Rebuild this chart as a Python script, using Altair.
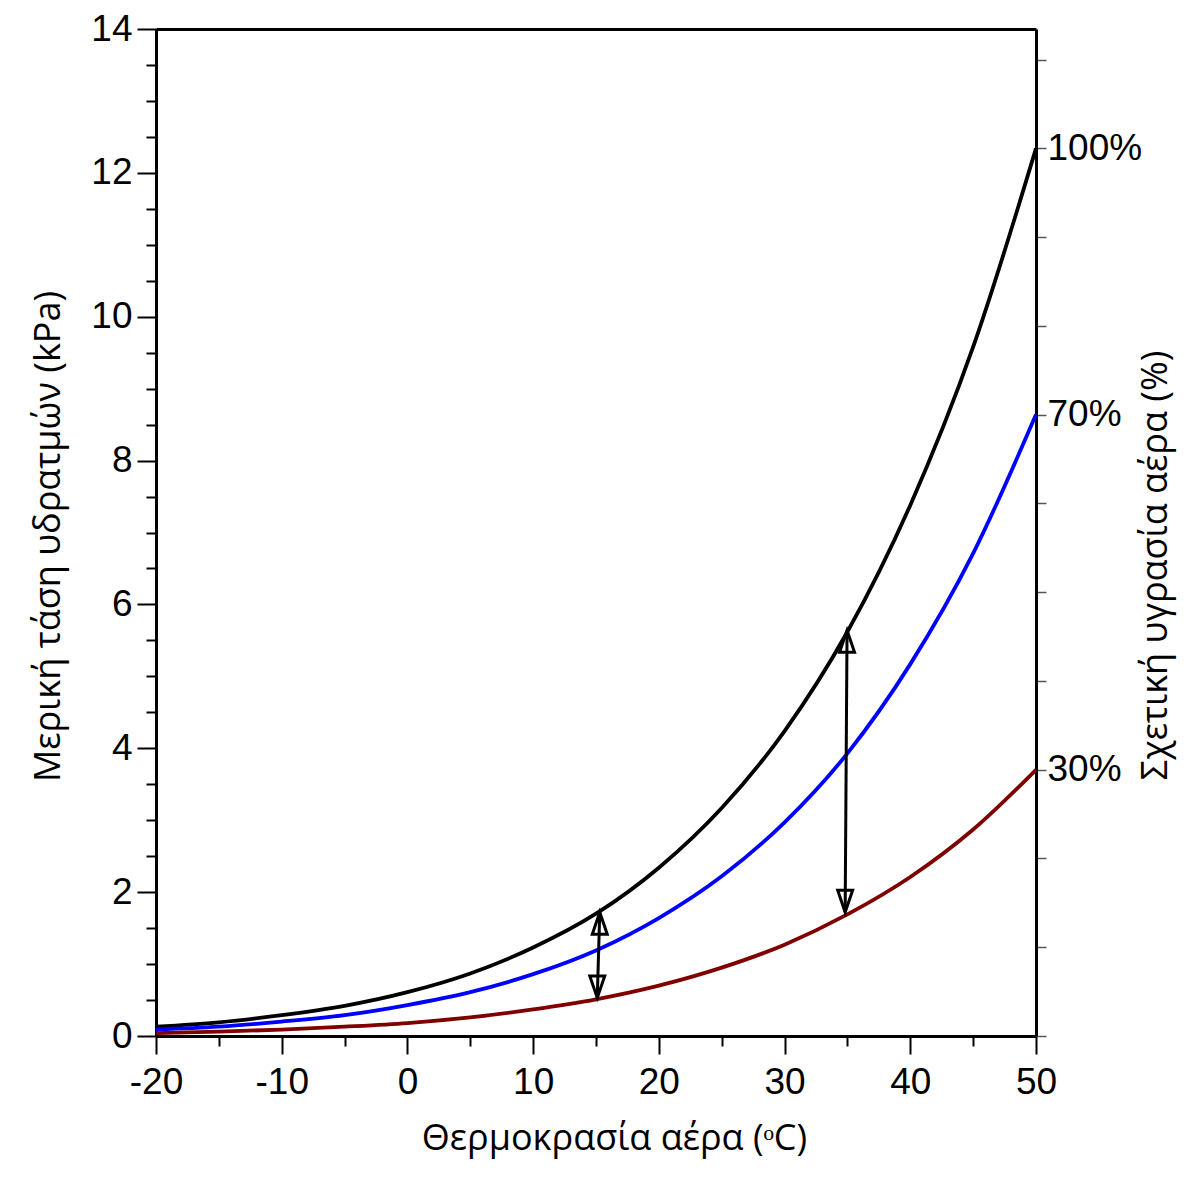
import altair as alt
import pandas as pd

# ---- data ----
temps = [-20, -15, -10, -5, 0, 5, 10, 15, 20, 25, 30, 35, 40, 45, 50]
rh100 = [0.13, 0.19, 0.29, 0.42, 0.61, 0.87, 1.23, 1.70, 2.34, 3.17, 4.24, 5.62, 7.38, 9.58, 12.34]
rh70 = [0.09, 0.13, 0.20, 0.29, 0.43, 0.61, 0.86, 1.19, 1.64, 2.22, 2.97, 3.93, 5.17, 6.71, 8.64]
rh30 = [0.04, 0.06, 0.09, 0.13, 0.18, 0.26, 0.37, 0.51, 0.70, 0.95, 1.27, 1.69, 2.21, 2.87, 3.70]
series_names = ["100%", "70%", "30%"]
series_colors = ["#000000", "#0000ff", "#800000"]

# arrows (top tip, bottom tip)
arrow_x_top = [15.3, 34.97]
arrow_y_top = [1.72, 5.64]
arrow_x_bot = [15.1, 34.82]
arrow_y_bot = [0.53, 1.72]

x_major = [-20, -10, 0, 10, 20, 30, 40, 50]
x_minor = [-15, -5, 5, 15, 25, 35, 45]
y_major = [0, 2, 4, 6, 8, 10, 12, 14]
y_minor = [0.5 * k for k in range(29) if k % 4 != 0]
rh_ticks = [0, 10, 20, 30, 40, 50, 60, 70, 80, 90, 100, 110]
rh_labels = [30, 70, 100]

Y_MAX = 14
RH_MAX = Y_MAX / rh100[-1] * 100

rows = []
for name, vals in zip(series_names, [rh100, rh70, rh30]):
    for t, v in zip(temps, vals):
        rows.append({"T": t, "P": v, "s": name})
df = pd.DataFrame(rows)

arrows = pd.DataFrame({"xt": arrow_x_top, "yt": arrow_y_top,
                       "xb": arrow_x_bot, "yb": arrow_y_bot})

LABEL_FONT = "Liberation Sans"
TITLE_FONT = "Open Sans"
LFS = 37
TFS = 36

xs = alt.Scale(domain=[-20, 50], nice=False, zero=False)
ys = alt.Scale(domain=[0, Y_MAX], nice=False)

lines = alt.Chart(df).mark_line(strokeWidth=3.8, interpolate="monotone").encode(
    x=alt.X("T:Q", scale=xs, axis=alt.Axis(
        orient="bottom", values=x_major, tickSize=18, tickWidth=2, tickColor="black",
        domain=True, domainColor="black", domainWidth=3,
        labelExpr="'' + datum.value",
        labelFont=LABEL_FONT, labelFontSize=LFS, labelColor="black", labelPadding=10,
        labelFlush=False, labelOverlap=False, grid=False,
        title="Θερμοκρασία αέρα (ᵒC)", titleFont=TITLE_FONT, titleFontSize=TFS,
        titleFontWeight="normal", titleColor="black",
        titleX=458, titleY=102, titleAlign="center", titleBaseline="middle", titleAngle=0)),
    y=alt.Y("P:Q", scale=ys, axis=alt.Axis(
        orient="left", values=y_major, tickSize=19, tickWidth=2, tickColor="black",
        domain=True, domainColor="black", domainWidth=3,
        labelExpr="'' + datum.value",
        labelFont=LABEL_FONT, labelFontSize=LFS, labelColor="black", labelPadding=5,
        labelFlush=False, labelOverlap=False, grid=False,
        title="Μερική τάση υδρατμών (kPa)", titleFont=TITLE_FONT, titleFontSize=TFS,
        titleFontWeight="normal", titleColor="black",
        titleX=-108, titleY=507, titleAlign="center", titleBaseline="middle", titleAngle=270)),
    color=alt.Color("s:N", scale=alt.Scale(domain=series_names, range=series_colors), legend=None),
    detail="s:N",
)

shafts = alt.Chart(arrows).mark_rule(strokeWidth=3, color="black").encode(
    x="xt:Q", y="yt:Q", x2="xb:Q", y2="yb:Q")

UP = "M0,0 L-0.34,1 L0.34,1 Z"
DOWN = "M0,0 L-0.34,-1 L0.34,-1 Z"
heads_up = alt.Chart(arrows).mark_point(shape=UP, size=1936, filled=False,
                                        stroke="black", strokeWidth=3, opacity=1).encode(
    x="xt:Q", y="yt:Q")
heads_down = alt.Chart(arrows).mark_point(shape=DOWN, size=1936, filled=False,
                                          stroke="black", strokeWidth=3, opacity=1).encode(
    x="xb:Q", y="yb:Q")

main = alt.layer(lines, shafts, heads_up, heads_down)

minor = alt.Chart(df).mark_point(opacity=0).encode(
    x=alt.X("T:Q", scale=alt.Scale(domain=[-20, 50], nice=False, zero=False), axis=alt.Axis(
        orient="bottom", values=x_minor, tickSize=10, tickWidth=2, tickColor="black",
        domain=False, labels=False, grid=False, title=None)),
    y=alt.Y("P:Q", scale=alt.Scale(domain=[0, Y_MAX], nice=False), axis=alt.Axis(
        orient="left", values=y_minor, tickSize=10, tickWidth=2, tickColor="black",
        domain=False, labels=False, grid=False, title=None)),
)

label_expr = " : ".join(f"datum.value == {v} ? '{v}%'" for v in rh_labels) + " : ''"
right = alt.Chart(df).mark_point(opacity=0).encode(
    x=alt.X("T:Q", scale=alt.Scale(domain=[-20, 50], nice=False, zero=False), axis=alt.Axis(
        orient="top", domain=True, domainColor="black", domainWidth=3,
        ticks=False, labels=False, grid=False, title=None)),
    y=alt.Y("RH:Q", scale=alt.Scale(domain=[0, RH_MAX], nice=False), axis=alt.Axis(
        orient="right", values=rh_ticks, tickSize=10, tickWidth=1.5, tickColor="#555555",
        domain=True, domainColor="black", domainWidth=3,
        labelExpr=label_expr,
        labelFont=LABEL_FONT, labelFontSize=LFS, labelColor="black", labelPadding=1,
        labelFlush=False, labelOverlap=False, grid=False,
        title="Σχετική υγρασία αέρα (%)", titleFont=TITLE_FONT, titleFontSize=TFS,
        titleFontWeight="normal", titleColor="black",
        titleX=119, titleY=536, titleAlign="center", titleBaseline="middle", titleAngle=270)),
).transform_calculate(RH=f"datum.P / {rh100[-1]} * 100")

chart = alt.layer(main, minor, right).resolve_scale(
    x="independent", y="independent"
).properties(
    width=880, height=1007,
    autosize=alt.AutoSizeParams(type="none"),
    padding={"left": 148, "top": 21, "right": 146, "bottom": 130},
).configure_view(stroke="black", strokeWidth=3).configure(background="white")

chart.save("out.html", embed_options={"renderer": "svg", "actions": False})
